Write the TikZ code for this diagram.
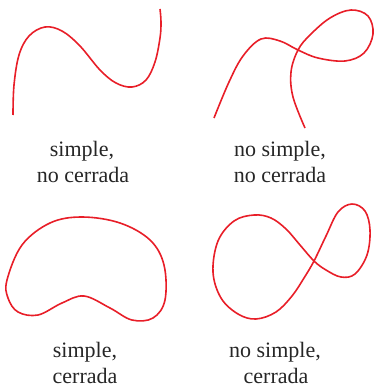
\documentclass[tikz,border=0pt]{standalone}
\usepackage{fontspec}
\setmainfont{Liberation Serif}
\definecolor{curvered}{RGB}{232,30,40}
\begin{document}
\begin{tikzpicture}[x=1pt,y=-1pt,
  curve/.style={draw=curvered,line width=1.6pt,line join=round},
  lbl/.style={anchor=base,inner sep=0pt,text=black!85,font=\fontsize{22}{27}\selectfont}]
\useasboundingbox (0,0) rectangle (376,385);
% top-left: simple, no cerrada
\draw[curve] plot[smooth,tension=0.6] coordinates {(13,115) (14,85) (19,55) (29,36) (45,27) (62,31) (80,46) (100,70) (116,83) (132,87) (146,80) (155,62) (160,38) (161,22) (160,9)};
% top-right: no simple, no cerrada
\draw[curve] plot[smooth,tension=0.6] coordinates {(214,118) (229,82) (243,56) (261,39) (280,41) (298,50) (318,58) (345,61) (364,53) (373,34) (368,16) (351,10) (330,18) (310,35) (298,50) (291,72) (293,97) (305,128)};
% bottom-left: simple, cerrada
\draw[curve] plot[smooth cycle,tension=0.6] coordinates {(7,280) (22,245) (50,223) (82,217) (120,223) (150,240) (164,265) (165,300) (153,318) (132,320) (110,308) (84,296) (62,303) (38,315) (18,312) (8,298)};
% bottom-right: no simple, cerrada
\draw[curve] plot[smooth cycle,tension=0.6] coordinates {(314,261) (326,236) (338,212) (352,204) (365,211) (370,230) (367,255) (355,274) (341,277) (326,270) (314,261) (300,245) (286,229) (271,218) (254,215) (234,221) (218,241) (213,272) (221,298) (238,314) (256,319) (276,312) (292,296) (304,278)};
% labels
\node[lbl] (tl1) at (82,156) {simple,};
\node[lbl] (tl2) at (83,182) {no cerrada};
\node[lbl] (tr1) at (280,156) {no simple,};
\node[lbl] (tr2) at (280,182) {no cerrada};
\node[lbl] (bl1) at (85,357) {simple,};
\node[lbl] (bl2) at (85,383) {cerrada};
\node[lbl] (br1) at (275,357) {no simple,};
\node[lbl] (br2) at (276,383) {cerrada};
\end{tikzpicture}
\end{document}
